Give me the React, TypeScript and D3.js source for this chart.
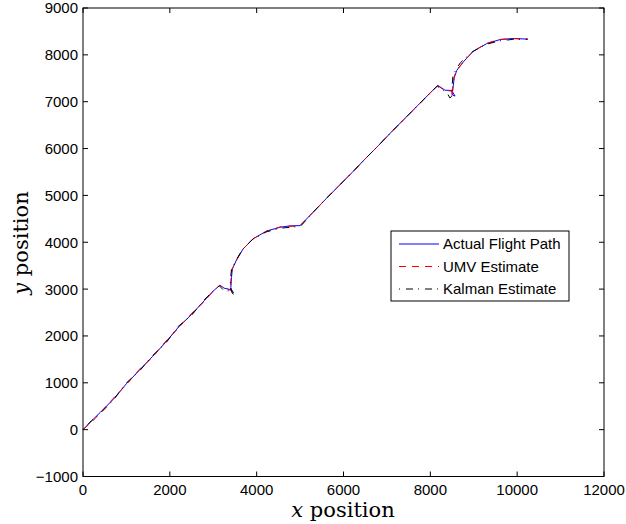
import React from "react"
import * as d3 from "d3"

// flight path samples [x, y]
const actualPath: [number, number][] = [
  [0, 0], [200, 190], [400, 370], [700, 650], [1000, 980], [1300, 1270], [1600, 1560],
  [1900, 1860], [2200, 2190], [2500, 2460], [2800, 2760], [3000, 2960], [3155, 3083],
  [3250, 3020], [3350, 3000], [3420, 2985], [3470, 2920], [3440, 2945], [3405, 3030],
  [3420, 3250], [3440, 3430], [3540, 3630], [3690, 3860], [3920, 4075], [4230, 4240],
  [4540, 4320], [4770, 4350], [5000, 4355], [5300, 4640], [5600, 4930], [5900, 5210],
  [6200, 5490], [6500, 5780], [6800, 6060], [7100, 6350], [7400, 6630], [7700, 6910],
  [8000, 7190], [8170, 7350], [8340, 7245], [8490, 7240], [8570, 7120], [8500, 7150],
  [8530, 7350], [8550, 7510], [8610, 7670], [8760, 7850], [8990, 8080], [9300, 8240],
  [9600, 8325], [9910, 8350], [10250, 8335],
]

const umvPath: [number, number][] = [
  [0, 0], [210, 170], [420, 380], [690, 660], [1010, 970], [1290, 1280], [1610, 1550],
  [1890, 1870], [2210, 2180], [2490, 2470], [2810, 2750], [3010, 2970], [3150, 3080],
  [3260, 3010], [3360, 2990], [3410, 2970], [3430, 2930], [3420, 2990], [3400, 3060],
  [3410, 3260], [3430, 3420], [3550, 3640], [3680, 3850], [3930, 4080], [4220, 4230],
  [4550, 4330], [4760, 4340], [4990, 4345], [5310, 4650], [5590, 4920], [5910, 5220],
  [6190, 5480], [6510, 5790], [6790, 6050], [7110, 6360], [7390, 6620], [7710, 6920],
  [7990, 7180], [8165, 7345], [8330, 7240], [8480, 7230], [8510, 7150], [8505, 7100],
  [8520, 7340], [8545, 7520], [8600, 7660], [8770, 7860], [8980, 8070], [9310, 8250],
  [9590, 8330], [9920, 8345], [10240, 8340],
]

const kalmanPath: [number, number][] = [
  [0, 0], [190, 185], [410, 360], [710, 640], [990, 990], [1310, 1260], [1590, 1570],
  [1910, 1850], [2190, 2200], [2510, 2450], [2790, 2770], [2990, 2950], [3140, 3070],
  [3230, 2985], [3330, 2965], [3400, 2960], [3460, 2890], [3440, 2920], [3390, 3040],
  [3400, 3240], [3420, 3420], [3520, 3610], [3670, 3840], [3900, 4060], [4220, 4220],
  [4540, 4300], [4790, 4320], [5010, 4340], [5290, 4630], [5610, 4940], [5890, 5200],
  [6210, 5500], [6490, 5770], [6810, 6070], [7090, 6340], [7410, 6640], [7690, 6900],
  [8010, 7200], [8160, 7330], [8300, 7240], [8380, 7205], [8450, 7080], [8490, 7110],
  [8500, 7330], [8520, 7540], [8570, 7650], [8690, 7830], [8960, 8060], [9270, 8220],
  [9600, 8300], [9900, 8330], [10230, 8330],
]

const xTicks = [0, 2000, 4000, 6000, 8000, 10000, 12000]
const yTicks = [-1000, 0, 1000, 2000, 3000, 4000, 5000, 6000, 7000, 8000, 9000]
const legendLabels = ["Actual Flight Path", "UMV Estimate", "Kalman Estimate"]

const W = 626
const H = 524
const plot = { left: 83, right: 604, top: 8, bottom: 476.5 }
const tickFont = "'Liberation Sans', Arial, Helvetica, sans-serif"
const serif = "'DejaVu Serif', 'Liberation Serif', serif"

export default function App() {
  const x = d3.scaleLinear().domain([0, 12000]).range([plot.left, plot.right])
  const y = d3.scaleLinear().domain([-1000, 9000]).range([plot.bottom, plot.top])
  const fmt = d3.format("d")
  const line = d3
    .line<[number, number]>()
    .x((d) => x(d[0]))
    .y((d) => y(d[1]))

  const series = [
    { data: actualPath, color: "#0000ff", dash: undefined },
    { data: umvPath, color: "#ff0000", dash: "7,6" },
    { data: kalmanPath, color: "#000000", dash: "1,6,7,5" },
  ]
  const tl = 5

  return (
    <svg
      width={W}
      height={H}
      style={{ position: "absolute", left: 0, top: 0, background: "#fff" }}
    >
      <rect x={0} y={0} width={W} height={H} fill="#fff" />

      {series.map((s, i) => (
        <path
          key={i}
          d={line(s.data) || ""}
          fill="none"
          stroke={s.color}
          strokeWidth={1}
          strokeDasharray={s.dash}
        />
      ))}

      {/* box */}
      <rect
        x={plot.left}
        y={plot.top}
        width={plot.right - plot.left}
        height={plot.bottom - plot.top}
        fill="none"
        stroke="#000"
        strokeWidth={1}
      />

      {xTicks.map((t) => (
        <g key={"x" + t}>
          <line x1={x(t)} x2={x(t)} y1={plot.bottom} y2={plot.bottom - tl} stroke="#000" />
          <line x1={x(t)} x2={x(t)} y1={plot.top} y2={plot.top + tl} stroke="#000" />
          <text
            x={x(t)}
            y={494.5}
            textAnchor="middle"
            fontFamily={tickFont}
            fontSize={15}
          >
            {fmt(t)}
          </text>
        </g>
      ))}

      {yTicks.map((t) => (
        <g key={"y" + t}>
          <line x1={plot.left} x2={plot.left + tl} y1={y(t)} y2={y(t)} stroke="#000" />
          <line x1={plot.right} x2={plot.right - tl} y1={y(t)} y2={y(t)} stroke="#000" />
          <text
            x={78}
            y={y(t)}
            dy="0.36em"
            textAnchor="end"
            fontFamily={tickFont}
            fontSize={15}
          >
            {fmt(t)}
          </text>
        </g>
      ))}

      <text x={343} y={517} textAnchor="middle" fontFamily={serif} fontSize={21}>
        <tspan fontStyle="italic">x</tspan> position
      </text>
      <text
        transform={`translate(28,243) rotate(-90)`}
        textAnchor="middle"
        fontFamily={serif}
        fontSize={21}
      >
        <tspan fontStyle="italic">y</tspan> position
      </text>

      {/* legend */}
      <g>
        <rect x={391} y={231} width={178} height={70} fill="#fff" stroke="#000" />
        {legendLabels.map((lab, i) => {
          const ly = 244 + i * 22.5
          return (
            <g key={lab}>
              <line
                x1={399}
                x2={439}
                y1={ly}
                y2={ly}
                stroke={series[i].color}
                strokeDasharray={series[i].dash}
              />
              <text x={443} y={ly} dy="0.36em" fontFamily={tickFont} fontSize={15}>
                {lab}
              </text>
            </g>
          )
        })}
      </g>
    </svg>
  )
}
